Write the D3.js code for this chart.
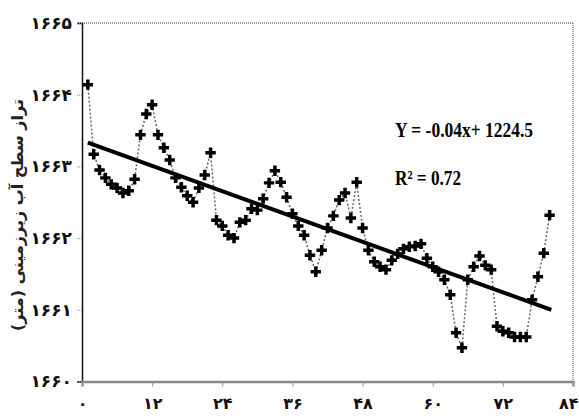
<!DOCTYPE html>
<html>
<head>
<meta charset="utf-8">
<script src="https://cdn.jsdelivr.net/npm/d3@7"></script>
<style>
  body { margin: 0; background: #fff; }
</style>
</head>
<body>
<div id="chart"></div>
<script>
// months and groundwater level (m)
const months = d3.range(1, 81);
const levels = [
  1664.14, 1663.17, 1662.95, 1662.84, 1662.75, 1662.70, 1662.63, 1662.66, 1662.82, 1663.44,
  1663.73, 1663.86, 1663.44, 1663.26, 1663.09, 1662.84, 1662.71, 1662.59, 1662.50, 1662.70,
  1662.88, 1663.19, 1662.25, 1662.17, 1662.04, 1662.00, 1662.22, 1662.25, 1662.41, 1662.39,
  1662.55, 1662.77, 1662.94, 1662.78, 1662.57, 1662.34, 1662.17, 1662.04, 1661.76, 1661.53,
  1661.83, 1662.14, 1662.31, 1662.53, 1662.63, 1662.28, 1662.78, 1662.14, 1661.83, 1661.67,
  1661.60, 1661.56, 1661.69, 1661.78, 1661.85, 1661.88, 1661.89, 1661.92, 1661.72, 1661.60,
  1661.53, 1661.42, 1661.21, 1660.68, 1660.47, 1661.42, 1661.60, 1661.75, 1661.62, 1661.56,
  1660.77, 1660.70, 1660.68, 1660.62, 1660.62, 1660.62, 1661.14, 1661.46, 1661.79, 1662.32
];

// trend line as drawn on the chart
const trendSlope = -0.0294;
const trendIntercept = 1663.36;
const trendRange = [1, 80.3];

const xTicks = [0, 12, 24, 36, 48, 60, 72, 84];
const xTickLabels = ["۰", "۱۲", "۲۴", "۳۶", "۴۸", "۶۰", "۷۲", "۸۴"];
const yTicks = [1660, 1661, 1662, 1663, 1664, 1665];
const yTickLabels = ["۱۶۶۰", "۱۶۶۱", "۱۶۶۲", "۱۶۶۳", "۱۶۶۴", "۱۶۶۵"];

const yTitle = "تراز سطح آب زیرزمینی (متر)";
const equation = "Y = -0.04x+ 1224.5";
const rSquared = "R² = 0.72";

const margin = {top: 23, right: 6, bottom: 37.5, left: 82},
      width = 579 - margin.left - margin.right,
      height = 419 - margin.top - margin.bottom;

const svg = d3.select("#chart")
  .append("svg")
  .attr("width", width + margin.left + margin.right)
  .attr("height", height + margin.top + margin.bottom)
  .append("g")
  .attr("transform", `translate(${margin.left}, ${margin.top})`);

const x = d3.scaleLinear().domain([0, 84]).range([0, width]);
const y = d3.scaleLinear().domain([1660, 1665]).range([height, 0]);

// top and right frame (dotted gray)
svg.append("line")
  .attr("x1", -4).attr("x2", width).attr("y1", 0).attr("y2", 0)
  .attr("stroke", "#777").attr("stroke-width", 1.5).attr("stroke-dasharray", "1,1");
svg.append("line")
  .attr("x1", width).attr("x2", width).attr("y1", 0).attr("y2", height)
  .attr("stroke", "#888").attr("stroke-width", 1.5).attr("stroke-dasharray", "1,1");

// Y axis
const yAxis = svg.append("g")
  .call(d3.axisLeft(y).tickValues(yTicks).tickSize(5).tickFormat((d, i) => yTickLabels[i]));
yAxis.select(".domain").attr("stroke", "#111").attr("stroke-width", 1.5);
yAxis.selectAll(".tick line").attr("stroke", "#888").attr("stroke-dasharray", "1,1");
yAxis.selectAll(".tick text")
  .attr("x", -10)
  .style("font-family", "DejaVu Sans")
  .style("font-weight", "bold")
  .style("font-size", "17px")
  .attr("fill", "#111");

// X axis
const xAxis = svg.append("g")
  .attr("transform", `translate(0, ${height})`)
  .call(d3.axisBottom(x).tickValues(xTicks).tickSize(5).tickFormat((d, i) => xTickLabels[i]));
xAxis.select(".domain").attr("stroke", "#888").attr("stroke-width", 2.5);
xAxis.selectAll(".tick line").attr("stroke", "#999");
xAxis.selectAll(".tick text")
  .attr("y", 16)
  .style("font-family", "DejaVu Sans")
  .style("font-weight", "bold")
  .style("font-size", "16px")
  .attr("fill", "#111");
// keep the last label inside the page
xAxis.selectAll(".tick text").filter((d, i) => i === xTicks.length - 1)
  .attr("text-anchor", "end").attr("x", 5);

// Y title
svg.append("text")
  .attr("transform", `translate(${18 - margin.left}, ${215 - margin.top}) rotate(-90)`)
  .attr("text-anchor", "middle")
  .attr("dominant-baseline", "middle")
  .style("font-family", "DejaVu Sans")
  .style("font-weight", "bold")
  .style("font-size", "16px")
  .attr("fill", "#222")
  .text(yTitle);

// dotted connecting line
svg.append("path")
  .datum(months)
  .attr("fill", "none")
  .attr("stroke", "#666")
  .attr("stroke-width", 1.5)
  .attr("stroke-dasharray", "2,2")
  .attr("d", d3.line().x(d => x(d)).y((d, i) => y(levels[i])));

// trend line
svg.append("line")
  .attr("x1", x(trendRange[0])).attr("y1", y(trendIntercept + trendSlope * trendRange[0]))
  .attr("x2", x(trendRange[1])).attr("y2", y(trendIntercept + trendSlope * trendRange[1]))
  .attr("stroke", "#000")
  .attr("stroke-width", 4);

// markers
svg.append("g")
  .selectAll("path")
  .data(months)
  .join("path")
    .attr("transform", (d, i) => `translate(${x(d)}, ${y(levels[i])})`)
    .attr("d", d3.symbol(d3.symbolCross, 60))
    .attr("fill", "#000");

// regression text
svg.append("text")
  .attr("x", 395 - margin.left).attr("y", 137 - margin.top)
  .attr("textLength", 138).attr("lengthAdjust", "spacingAndGlyphs")
  .style("font-family", "Liberation Serif")
  .style("font-weight", "bold")
  .style("font-size", "21px")
  .text(equation);
svg.append("text")
  .attr("x", 395 - margin.left).attr("y", 185 - margin.top)
  .attr("textLength", 66).attr("lengthAdjust", "spacingAndGlyphs")
  .style("font-family", "Liberation Serif")
  .style("font-weight", "bold")
  .style("font-size", "21px")
  .text(rSquared);
</script>
</body>
</html>
